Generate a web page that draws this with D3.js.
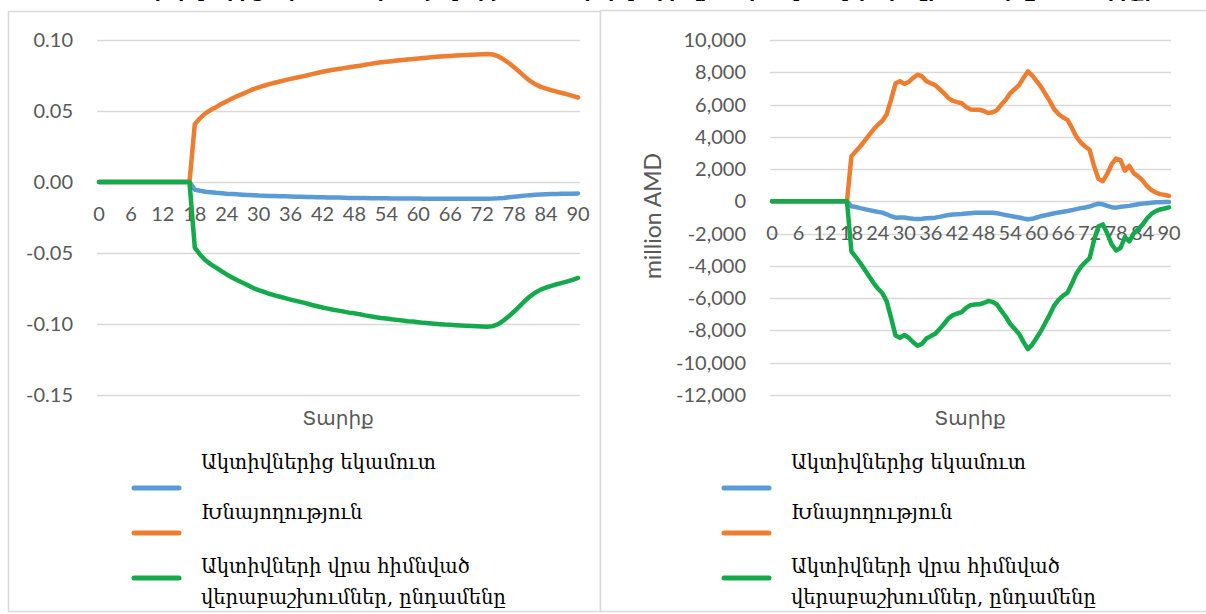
<!DOCTYPE html>
<html>
<head>
<meta charset="utf-8">
<script src="https://cdn.jsdelivr.net/npm/d3@7"></script>
<style>
  body { margin: 0; background: #fff; overflow: hidden; }
</style>
</head>
<body>
<script>
// ages 0..90 on the category axis, labels every 6 years
var ages = d3.range(0, 91);
var ageTicks = [0, 6, 12, 18, 24, 30, 36, 42, 48, 54, 60, 66, 72, 78, 84, 90];

var legendLines = [["Ակտիվներից եկամուտ"], ["Խնայողություն"], ["Ակտիվների վրա հիմնված", "վերաբաշխումներ, ընդամենը"]];
var seriesColors = ["#5B9BD5", "#ED7D31", "#14AA4B"];

var titleText = "Ակտիվներից եկամուտ, խնայողություն և ակտիվների վրա հիմնված վերաբաշխումներ ըստ տարիքի";
var xTitle = "Տարիք";
var yTitleRight = "million AMD";

// left chart (per capita ratios), ages 0-17 are zero
var leftBlue = [0,0,0,0,0,0,0,0,0,0,0,0,0,0,0,0,0,0,
  -0.0055,-0.0062,-0.0068,-0.0072,-0.0076,-0.0079,-0.0082,-0.0084,-0.0087,-0.0089,
  -0.0091,-0.0093,-0.0095,-0.0096,-0.0098,-0.0099,-0.0100,-0.0101,-0.0102,-0.0103,
  -0.0104,-0.0105,-0.0106,-0.0107,-0.0108,-0.0109,-0.0110,-0.0110,-0.0111,-0.0112,
  -0.0112,-0.0113,-0.0113,-0.0114,-0.0114,-0.0115,-0.0115,-0.0116,-0.0116,-0.0116,
  -0.0117,-0.0117,-0.0117,-0.0118,-0.0118,-0.0118,-0.0118,-0.0118,-0.0118,-0.0118,
  -0.0118,-0.0118,-0.0118,-0.0118,-0.0118,-0.0118,-0.0117,-0.0115,-0.0112,-0.0108,
  -0.0104,-0.0100,-0.0096,-0.0093,-0.0090,-0.0088,-0.0086,-0.0085,-0.0084,-0.0083,
  -0.0083,-0.0082,-0.0081];
var leftOrange = [0,0,0,0,0,0,0,0,0,0,0,0,0,0,0,0,0,0,
  0.0407,0.0450,0.0483,0.0508,0.0527,0.0549,0.0569,0.0588,0.0605,0.0621,
  0.0637,0.0654,0.0666,0.0678,0.0689,0.0699,0.0708,0.0717,0.0726,0.0734,
  0.0742,0.0750,0.0760,0.0768,0.0776,0.0783,0.0790,0.0796,0.0802,0.0808,
  0.0813,0.0818,0.0826,0.0832,0.0838,0.0843,0.0847,0.0851,0.0855,0.0859,
  0.0863,0.0866,0.0870,0.0874,0.0877,0.0880,0.0883,0.0886,0.0888,0.0890,
  0.0892,0.0894,0.0896,0.0898,0.0900,0.0902,0.0898,0.0886,0.0864,0.0838,
  0.0808,0.0776,0.0742,0.0712,0.0688,0.0670,0.0657,0.0646,0.0636,0.0627,
  0.0617,0.0607,0.0595];
var leftGreen = [0,0,0,0,0,0,0,0,0,0,0,0,0,0,0,0,0,0,
  -0.0462,-0.0512,-0.0551,-0.0580,-0.0603,-0.0628,-0.0651,-0.0672,-0.0692,-0.0710,
  -0.0728,-0.0747,-0.0761,-0.0774,-0.0787,-0.0798,-0.0808,-0.0818,-0.0828,-0.0837,
  -0.0846,-0.0855,-0.0866,-0.0875,-0.0884,-0.0892,-0.0900,-0.0906,-0.0913,-0.0920,
  -0.0925,-0.0931,-0.0939,-0.0946,-0.0952,-0.0958,-0.0962,-0.0967,-0.0971,-0.0975,
  -0.0980,-0.0983,-0.0987,-0.0992,-0.0995,-0.0998,-0.1001,-0.1004,-0.1006,-0.1008,
  -0.1010,-0.1012,-0.1014,-0.1016,-0.1018,-0.1020,-0.1015,-0.1001,-0.0976,-0.0946,
  -0.0912,-0.0876,-0.0838,-0.0805,-0.0778,-0.0758,-0.0743,-0.0731,-0.0720,-0.0710,
  -0.0700,-0.0689,-0.0676];
var leftTicks = [0.10, 0.05, 0.00, -0.05, -0.10, -0.15];

// right chart (million AMD)
var rightBlue = [0,0,0,0,0,0,0,0,0,0,0,0,0,0,0,0,0,0,
  -300,-350,-420,-480,-540,-600,-650,-700,-800,-920,
  -1010,-1000,-1000,-1050,-1080,-1100,-1080,-1050,-1030,-1010,
  -960,-900,-850,-820,-800,-780,-750,-730,-710,-700,
  -700,-700,-710,-740,-790,-850,-900,-950,-1000,-1060,
  -1110,-1080,-1000,-920,-860,-800,-740,-690,-640,-600,
  -540,-480,-420,-380,-320,-220,-150,-180,-280,-360,
  -390,-340,-310,-280,-230,-180,-140,-110,-80,-60,
  -50,-45,-40];
var rightOrange = [0,0,0,0,0,0,0,0,0,0,0,0,0,0,0,0,0,0,
  2800,3100,3400,3750,4100,4450,4750,4980,5400,6300,
  7300,7450,7280,7400,7650,7850,7750,7450,7320,7200,
  6950,6700,6400,6230,6150,6080,5850,5700,5680,5680,
  5600,5480,5520,5650,6000,6300,6700,6950,7200,7650,
  8050,7800,7450,7100,6650,6200,5700,5400,5200,5050,
  4550,4000,3650,3400,3200,2200,1400,1250,1700,2300,
  2650,2550,1900,2200,1750,1550,1300,950,700,550,
  450,400,330];
var rightGreen = [0,0,0,0,0,0,0,0,0,0,0,0,0,0,0,0,0,0,
  -3100,-3450,-3820,-4230,-4640,-5050,-5400,-5680,-6200,-7220,
  -8310,-8450,-8280,-8450,-8730,-8950,-8830,-8500,-8350,-8210,
  -7910,-7600,-7250,-7050,-6950,-6860,-6600,-6430,-6390,-6380,
  -6300,-6180,-6230,-6390,-6790,-7150,-7600,-7900,-8200,-8710,
  -9160,-8880,-8450,-8020,-7510,-7000,-6440,-6090,-5840,-5650,
  -5090,-4480,-4070,-3780,-3520,-2420,-1550,-1430,-1980,-2660,
  -3040,-2890,-2210,-2480,-1980,-1730,-1440,-1060,-780,-610,
  -500,-445,-370];
var rightTicks = [10000, 8000, 6000, 4000, 2000, 0, -2000, -4000, -6000, -8000, -10000, -12000];

var svg = d3.select("body").append("svg")
  .attr("width", 1206)
  .attr("height", 614);

// panel frames
svg.append("rect").attr("x", 8.5).attr("y", 11.5).attr("width", 592).attr("height", 600)
  .attr("fill", "#fff").attr("stroke", "#D9D9D9").attr("stroke-width", 1.5);
svg.append("rect").attr("x", 600.5).attr("y", 10.5).attr("width", 620).attr("height", 601)
  .attr("fill", "#fff").attr("stroke", "#D9D9D9").attr("stroke-width", 1.5);

// title, cut off by the top edge like in the source picture
svg.append("text")
  .attr("x", 645).attr("y", -3)
  .attr("text-anchor", "middle")
  .attr("font-family", "DejaVu Sans")
  .attr("font-weight", "bold")
  .attr("font-size", "19px")
  .attr("fill", "#000")
  .text(titleText);

function fmtLeft(v) { return d3.format(".2f")(v).replace("\u2212", "-"); }
function fmtRight(v) { return d3.format(",")(v).replace("\u2212", "-"); }

DrawLines(svg, [leftBlue, leftOrange, leftGreen], {
  xRange: [99, 578], yDomain: [-0.15, 0.10], yRange: [395, 40],
  ticks: leftTicks, fmt: fmtLeft, labelRight: 73,
  xLabelDy: 39, xTitleX: 338, legendX: 132
});
DrawLines(svg, [rightBlue, rightOrange, rightGreen], {
  xRange: [772, 1169], yDomain: [-12000, 10000], yRange: [395, 40],
  ticks: rightTicks, fmt: fmtRight, labelRight: 746,
  xLabelDy: 39, xTitleX: 970, legendX: 722, yTitle: yTitleRight
});

function DrawLines(svg, series, opt) {
  var g = svg.append("g");

  var xScale = d3.scaleLinear().domain([0, 90]).range(opt.xRange);
  var yScale = d3.scaleLinear().domain(opt.yDomain).range(opt.yRange);

  // gridlines
  g.selectAll(".grid")
    .data(opt.ticks)
    .enter()
    .append("line")
    .attr("x1", opt.xRange[0] - 2)
    .attr("x2", opt.xRange[1] + 2)
    .attr("y1", d => Math.round(yScale(d)) + 0.5)
    .attr("y2", d => Math.round(yScale(d)) + 0.5)
    .attr("stroke", "#D9D9D9")
    .attr("stroke-width", 1.3);

  // value labels
  g.selectAll(".ylab")
    .data(opt.ticks)
    .enter()
    .append("text")
    .attr("x", opt.labelRight)
    .attr("y", d => yScale(d) + 7)
    .attr("text-anchor", "end")
    .attr("font-family", "Lato")
    .attr("font-size", "20px")
    .attr("fill", "#595959")
    .text(d => opt.fmt(d));

  // age labels under the zero line
  g.selectAll(".xlab")
    .data(ageTicks)
    .enter()
    .append("text")
    .attr("x", d => xScale(d))
    .attr("y", yScale(0) + opt.xLabelDy)
    .attr("text-anchor", "middle")
    .attr("font-family", "Lato")
    .attr("font-size", "20px")
    .attr("fill", "#595959")
    .text(d => d);

  g.append("text")
    .attr("x", opt.xTitleX)
    .attr("y", 425)
    .attr("text-anchor", "middle")
    .attr("font-family", "DejaVu Sans")
    .attr("font-size", "20px")
    .attr("fill", "#595959")
    .text(xTitle);

  if (opt.yTitle) {
    g.append("text")
      .attr("transform", "translate(661, 216) rotate(-90)")
      .attr("text-anchor", "middle")
      .attr("font-family", "Lato")
      .attr("font-size", "23px")
      .attr("fill", "#595959")
      .text(opt.yTitle);
  }

  var line = d3.line()
    .x((d, i) => xScale(ages[i]))
    .y(d => yScale(d));

  series.forEach(function (s, k) {
    g.append("path")
      .datum(s)
      .attr("d", line)
      .attr("fill", "none")
      .attr("stroke", seriesColors[k])
      .attr("stroke-width", 4.5)
      .attr("stroke-linejoin", "round")
      .attr("stroke-linecap", "round");
  });

  // legend
  var swatchY = [488, 533, 578];
  var textY = [[469], [519], [573, 604]];
  legendLines.forEach(function (lines, k) {
    g.append("line")
      .attr("x1", opt.legendX + 2).attr("x2", opt.legendX + 47)
      .attr("y1", swatchY[k]).attr("y2", swatchY[k])
      .attr("stroke", seriesColors[k])
      .attr("stroke-width", 5)
      .attr("stroke-linecap", "round");
    lines.forEach(function (t, j) {
      g.append("text")
        .attr("x", opt.legendX + 69)
        .attr("y", textY[k][j])
        .attr("font-family", "DejaVu Serif")
        .attr("font-size", "19.5px")
        .attr("fill", "#000")
        .text(t);
    });
  });
}
</script>
</body>
</html>
